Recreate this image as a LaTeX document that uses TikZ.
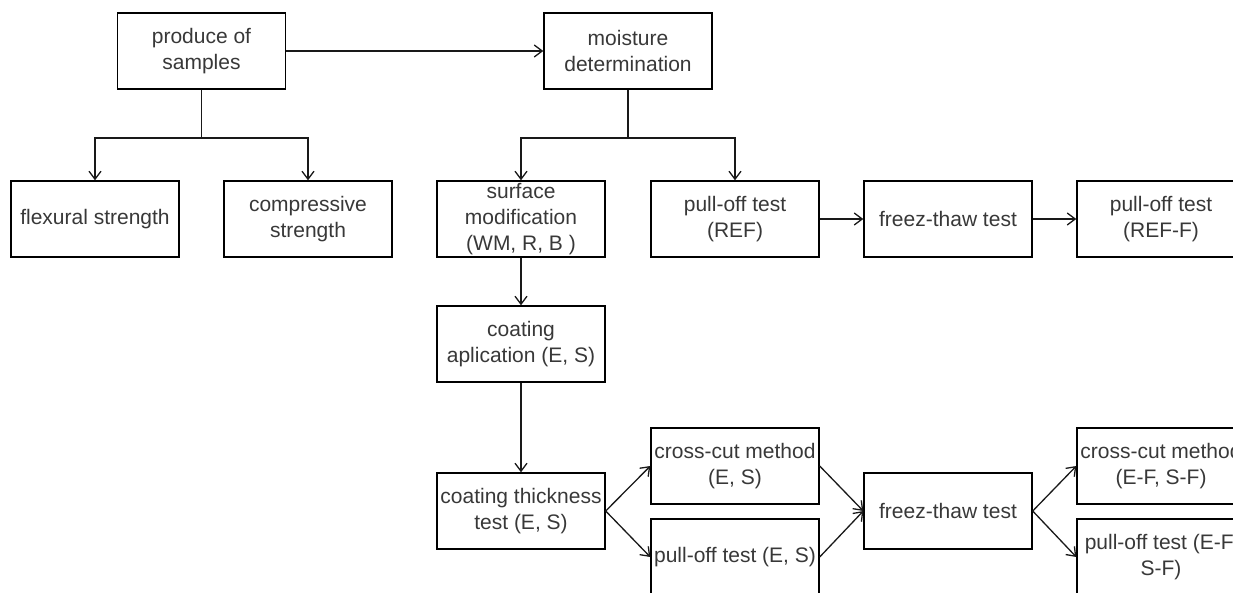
\documentclass[tikz,border=0pt]{standalone}
\usepackage{fontspec}
\setmainfont{Liberation Sans}
\usetikzlibrary{arrows.meta}
\begin{document}
\begin{tikzpicture}[x=1pt,y=-1pt,
  box/.style={draw=black, line width=1.4pt, minimum width=168pt, minimum height=76pt,
    align=center, inner sep=0pt, text=black!78, font=\fontsize{21}{26}\selectfont},
  conn/.style={line width=1.3pt, draw=black!90},
  arr/.style={conn, -{Straight Barb[length=8pt,width=12pt,line width=1.3pt]}}]
\useasboundingbox (0,0) rectangle (1233,592);
\clip (0,0) rectangle (1233,592);
\node[box] (prod) at (201.5,51) {produce of\\samples};
\node[box] (moist) at (628,51) {moisture\\determination};
\node[box] (flex) at (95,219) {flexural strength};
\node[box] (comp) at (308,219) {compressive\\strength};
\node[box] (surf) at (521,219) {surface\\modification\\(WM, R, B )};
\node[box] (ref) at (735,219) {pull-off test\\(REF)};
\node[box] (ftA) at (948,219) {freez-thaw test};
\node[box] (reff) at (1161,219) {pull-off test\\(REF-F)};
\node[box] (coat) at (521,344) {coating\\aplication (E, S)};
\node[box] (thick) at (521,511) {coating thickness\\test (E, S)};
\node[box] (cc) at (735,466) {cross-cut method\\(E, S)};
\node[box] (po) at (735,557) {pull-off test (E, S)};
\node[box] (ftB) at (948,511) {freez-thaw test};
\node[box] (ccf) at (1161,466) {cross-cut method\\(E-F, S-F)};
\node[box] (pof) at (1161,557) {pull-off test (E-F,\\S-F)};
\coordinate (j1) at (201.5,138);
\coordinate (j2) at (628,138);
\draw[arr] (prod.east) -- (moist.west);
\draw[conn] (prod.south) -- (j1);
\draw[arr] (j1) -| (flex.north);
\draw[arr] (j1) -| (comp.north);
\draw[conn] (moist.south) -- (j2);
\draw[arr] (j2) -| (surf.north);
\draw[arr] (j2) -| (ref.north);
\draw[arr] (ref.east) -- (ftA.west);
\draw[arr] (ftA.east) -- (reff.west);
\draw[arr] (surf.south) -- (coat.north);
\draw[arr] (coat.south) -- (thick.north);
\draw[arr] (thick.east) -- (cc.west);
\draw[arr] (thick.east) -- (po.west);
\draw[arr] (cc.east) -- (ftB.west);
\draw[arr] (po.east) -- (ftB.west);
\draw[arr] (ftB.east) -- (ccf.west);
\draw[arr] (ftB.east) -- (pof.west);
\end{tikzpicture}
\end{document}
